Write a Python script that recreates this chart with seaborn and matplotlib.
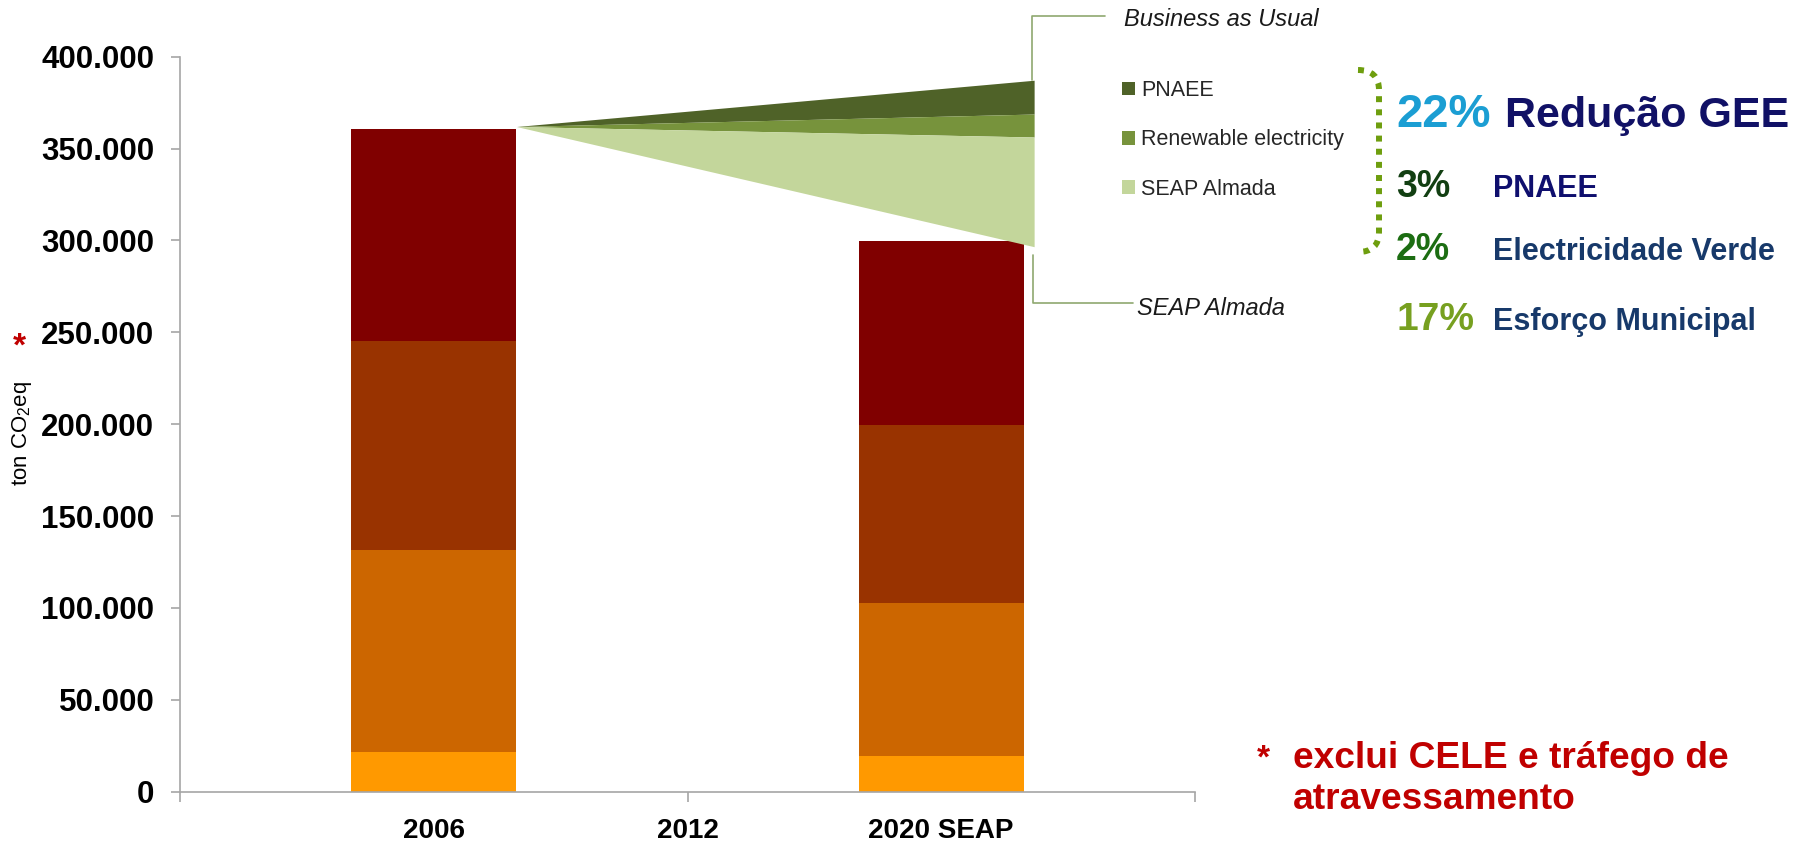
import matplotlib
matplotlib.use("Agg")
import matplotlib.pyplot as plt
import seaborn as sns
import pandas as pd
from matplotlib.patches import Patch, PathPatch
from matplotlib.path import Path
from matplotlib.ticker import FuncFormatter

# ---------------- data ----------------
years = ["2006", "2012", "2020 SEAP"]

# stacked emission blocks, bottom -> top (ton CO2eq)
seg_a = [21800, 0, 19600]
seg_b = [109600, 0, 83300]
seg_c = [113800, 0, 96700]
seg_d = [115300, 0, 99900]
seg_colors = ["#FF9900", "#CC6600", "#993300", "#800000"]

# reduction wedge: start value (2006 top) and 2020 boundaries
wedge_start = 362000
bau_2020 = 387200
after_pnaee_2020 = 368800
after_renew_2020 = 356300
seap_2020 = 296600
wedge_labels = ["PNAEE", "Renewable electricity", "SEAP Almada"]
wedge_colors = ["#4F6228", "#77933C", "#C3D69B"]

pct_values = ["22%", "3%", "2%", "17%"]
pct_labels = ["Redução GEE", "PNAEE", "Electricidade Verde", "Esforço Municipal"]
pct_colors = ["#1B9ED3", "#123F12", "#1C6D12", "#77A020"]
lab_colors = ["#111166", "#0F0F6E", "#17396A", "#17396A"]

W, H = 1801, 846


def fx(px):
    return px / W


def fy(py):
    return 1 - py / H


sns.set_theme(style="white")
plt.rcParams["font.family"] = ["Liberation Sans", "DejaVu Sans"]
plt.rcParams["mathtext.fontset"] = "custom"
plt.rcParams["mathtext.rm"] = "Liberation Sans"

fig = plt.figure(figsize=(W / 100, H / 100), dpi=100)
ax = fig.add_axes([fx(180), fy(791.7), fx(1195) - fx(180), fy(56.7) - fy(791.7)])

# ---------------- stacked bars (cumulative, drawn largest first) ----------------
bar_w = 0.652
segs = [seg_a, seg_b, seg_c, seg_d]
cum = []
run = [0, 0, 0]
for s in segs:
    run = [r + v for r, v in zip(run, s)]
    cum.append(run)

for level, col in reversed(list(zip(cum, seg_colors))):
    df = pd.DataFrame({"year": years, "level": level})
    sns.barplot(data=df, x="year", y="level", order=years, color=col,
                saturation=1, width=bar_w, errorbar=None, linewidth=0, ax=ax)

# ---------------- reduction wedge ----------------
wx = [0 + bar_w / 2, 2 + bar_w / 2 + 0.04]
bounds = [bau_2020, after_pnaee_2020, after_renew_2020, seap_2020]
handles = []
for i, (lab, col) in enumerate(zip(wedge_labels, wedge_colors)):
    ax.fill_between(wx, [wedge_start, bounds[i + 1]], [wedge_start, bounds[i]],
                    color=col, linewidth=0, label=lab, zorder=3)
    handles.append(Patch(facecolor=col, edgecolor="none", label=lab))

# callout lines
call_col = "#8FA870"
ax.plot([wx[1] - 0.01, wx[1] - 0.01, 2.645], [bau_2020, 422300, 422300],
        color=call_col, lw=1.2, clip_on=False, zorder=4)
ax.plot([wx[1] - 0.005, wx[1] - 0.005, 2.756], [292000, 266000, 266000],
        color=call_col, lw=1.2, clip_on=False, zorder=4)
fig.text(fx(1124), fy(20), "Business as Usual", fontsize=17, style="italic",
         color="#1a1a1a", va="center", ha="left")
fig.text(fx(1137), fy(308), "SEAP Almada", fontsize=17, style="italic",
         color="#1a1a1a", va="center", ha="left")

# ---------------- axes styling ----------------
ax.set_xlim(-1, 3)
ax.set_ylim(0, 400000)
ax.set_xlabel("")
ax.set_ylabel("")
ax.set_yticks(range(0, 400001, 50000))
ax.yaxis.set_major_formatter(FuncFormatter(lambda v, p: f"{v:,.0f}".replace(",", ".")))
for sp in ["top", "right"]:
    ax.spines[sp].set_visible(False)
for sp in ["left", "bottom"]:
    ax.spines[sp].set_color("#A6A6A6")
    ax.spines[sp].set_linewidth(1.2)

ax.tick_params(axis="y", which="major", direction="out", length=6.5, width=1.2,
               color="#A6A6A6", pad=12, left=True, labelsize=22.5, labelcolor="black")
for t in ax.get_yticklabels():
    t.set_fontweight("bold")

ax.xaxis.remove_overlapping_locs = False
ax.set_xticks([0, 1, 2])
ax.set_xticklabels(years)
ax.set_xticks([-1, 1, 3], minor=True)
ax.tick_params(axis="x", which="major", length=0, pad=19)
ax.tick_params(axis="x", which="minor", direction="out", length=7, width=1.2,
               color="#A6A6A6", bottom=True)
for t in ax.get_xticklabels():
    t.set_fontweight("bold")
    t.set_fontsize(20)
    t.set_color("black")

# y label + asterisk
fig.text(fx(22), fy(433), "ton CO$_2$eq", rotation=90, fontsize=16,
         ha="center", va="center", color="black")
fig.text(fx(19), fy(347), "*", fontsize=24, fontweight="bold", color="#C00000",
         ha="center", va="center")

# ---------------- legend for the wedge ----------------
fig.legend(handles=handles, loc="upper left", bbox_to_anchor=(fx(1122), fy(80)),
           frameon=False, fontsize=15.5, handlelength=0.6, handleheight=0.6,
           handletextpad=0.3, labelspacing=1.32, borderpad=0, borderaxespad=0)

# ---------------- dotted bracket ----------------
pts = [(1358, 70), (1379, 70), (1379, 90), (1379, 232), (1379, 252), (1358, 252)]
codes = [Path.MOVETO, Path.CURVE3, Path.CURVE3, Path.LINETO, Path.CURVE3, Path.CURVE3]
bracket = Path([(fx(a), fy(b)) for a, b in pts], codes)
fig.add_artist(PathPatch(bracket, transform=fig.transFigure, fill=False,
                         edgecolor="#6E9E0E", lw=4.3, linestyle=(0, (1, 1.2)),
                         capstyle="butt"))

# ---------------- summary text ----------------
rows_y = [127, 197, 260, 330]
pct_sizes = [34, 27, 27, 28]
lab_sizes = [31, 22, 22, 22]
lab_x = [1505, 1493, 1493, 1493]
for val, lab, pc, lc, yy, ps, ls, lx in zip(pct_values, pct_labels, pct_colors, lab_colors,
                                            rows_y, pct_sizes, lab_sizes, lab_x):
    fig.text(fx(1396), fy(yy), val, fontsize=ps, fontweight="bold", color=pc,
             ha="left", va="baseline")
    fig.text(fx(lx), fy(yy), lab, fontsize=ls, fontweight="bold", color=lc,
             ha="left", va="baseline")

# ---------------- footnote ----------------
fig.text(fx(1257), fy(768), "*", fontsize=24, fontweight="bold", color="#C00000",
         ha="left", va="baseline")
fig.text(fx(1293), fy(768), "exclui CELE e tráfego de", fontsize=26.7, fontweight="bold",
         color="#C00000", ha="left", va="baseline")
fig.text(fx(1293), fy(809), "atravessamento", fontsize=26.7, fontweight="bold",
         color="#C00000", ha="left", va="baseline")

fig.savefig("out.png", dpi=100)
